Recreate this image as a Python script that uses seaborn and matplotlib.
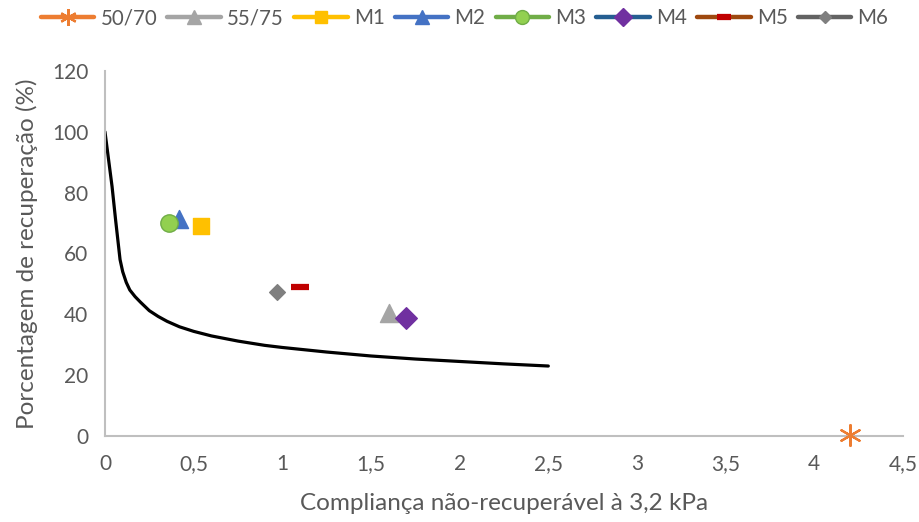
import matplotlib
matplotlib.use("Agg")
import matplotlib.pyplot as plt
from matplotlib.lines import Line2D
import numpy as np
import pandas as pd
import seaborn as sns

# reference curve
curve_x = [0, 0.02, 0.04, 0.06, 0.085, 0.1, 0.12, 0.14, 0.17, 0.2, 0.25, 0.3, 0.35, 0.42,
           0.5, 0.6, 0.75, 0.9, 1.0, 1.25, 1.5, 1.75, 2.0, 2.25, 2.5]
curve_y = [100, 91, 82, 71, 58, 54, 50.5, 48, 45.8, 44, 41.2, 39.3, 37.7, 35.9,
           34.4, 32.9, 31.2, 29.8, 29.1, 27.6, 26.3, 25.3, 24.5, 23.7, 23.0]

# binder results
series = ["50/70", "55/75", "M1", "M2", "M3", "M4", "M5", "M6"]
jnr = [4.2, 1.6, 0.54, 0.42, 0.36, 1.7, 1.10, 0.97]
recovery = [0.3, 40.3, 68.9, 71.3, 70.0, 38.7, 48.9, 47.4]

line_colors = ["#ED7D31", "#A5A5A5", "#FFC000", "#4472C4", "#70AD47", "#255E91", "#9E480E", "#636363"]
face_colors = ["#ED7D31", "#A5A5A5", "#FFC000", "#4472C4", "#92D050", "#7030A0", "#C00000", "#7F7F7F"]
edge_colors = ["#ED7D31", "#A5A5A5", "#FFC000", "#4472C4", "#70AD47", "#7030A0", "#C00000", "#7F7F7F"]
markers = [(6, 2, 0), "^", "s", "^", "o", "D", "_", "D"]
sizes = [15, 13, 11, 13, 12.5, 11, 13, 8]

sns.set_style("white")
plt.rcParams["font.family"] = ["Lato", "DejaVu Sans"]
text_color = "#595959"

fig = plt.figure(figsize=(9.2, 5.22), dpi=100)
ax = fig.add_axes([0.1141, 0.1648, 0.8674, 0.6992])

sns.lineplot(x=curve_x, y=curve_y, color="black", linewidth=2.3, ax=ax, sort=False)

pts = pd.DataFrame({"serie": series, "jnr": jnr, "rec": recovery})
handles = []
for i, name in enumerate(series):
    sub = pts[pts["serie"] == name]
    mk = markers[i]
    lw_mk = 1.0
    if mk == "_":
        lw_mk = 4.5
    elif isinstance(mk, tuple):
        lw_mk = 1.6
    face = face_colors[i]
    if isinstance(mk, tuple) or mk == "_":
        face = edge_colors[i]
    sns.scatterplot(data=sub, x="jnr", y="rec", marker=mk, s=sizes[i] ** 2,
                    color=face, edgecolor=edge_colors[i], linewidth=lw_mk,
                    ax=ax, zorder=3, legend=False, clip_on=False)
    handles.append(Line2D([0], [0], color=line_colors[i], linewidth=3.2, marker=mk,
                          markersize=sizes[i] * 0.8, markerfacecolor=face,
                          markeredgecolor=edge_colors[i], markeredgewidth=lw_mk))

ax.set_xlim(0, 4.5)
ax.set_ylim(0, 120)
ax.set_xticks(np.arange(0, 4.51, 0.5))
ax.set_yticks(np.arange(0, 121, 20))
ax.set_xticklabels([f"{v:g}".replace(".", ",") for v in np.arange(0, 4.51, 0.5)])
ax.tick_params(axis="both", labelsize=15, colors=text_color, length=0, pad=13)
ax.tick_params(axis="y", pad=12)

for side in ["top", "right"]:
    ax.spines[side].set_visible(False)
for side in ["left", "bottom"]:
    ax.spines[side].set_color("#BFBFBF")
    ax.spines[side].set_linewidth(1.5)

ax.set_xlabel("Compliança não-recuperável à 3,2 kPa", fontsize=17.5, color=text_color, labelpad=14)
ax.set_ylabel("Porcentagem de recuperação (%)", fontsize=17.5, color=text_color, labelpad=10)

fig.legend(handles, series, loc="upper center", bbox_to_anchor=(0.505, 1.02), ncol=8,
           frameon=False, fontsize=14.8, handlelength=2.6, handletextpad=0.3,
           columnspacing=0.5, labelcolor=text_color)

fig.savefig("out.png", dpi=100)
